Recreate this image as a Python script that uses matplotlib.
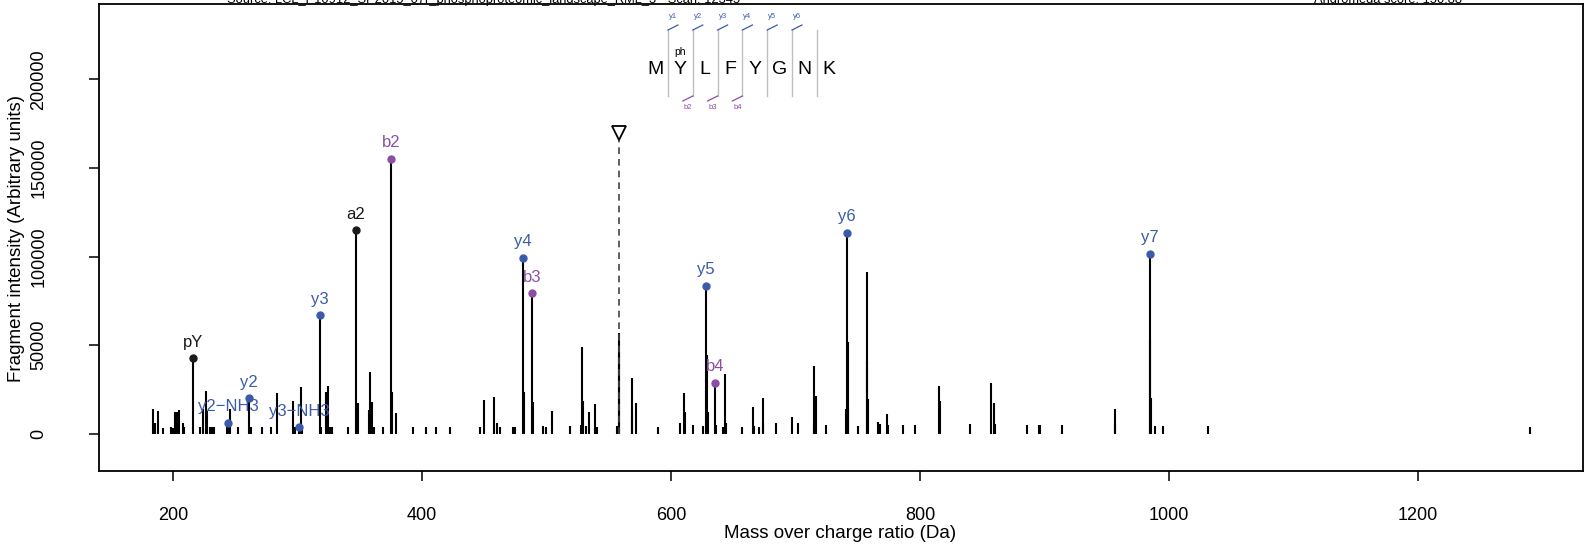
import matplotlib
matplotlib.use("Agg")
import matplotlib.pyplot as plt

plt.rcParams['font.family'] = ['Liberation Sans', 'DejaVu Sans']

# unannotated fragment peaks (m/z, intensity)
peak_mz = [183.7, 185.5, 187.6, 191.9, 198.8, 199.8, 201.6, 203.5, 205.1, 207.7,
           209.2, 221.7, 223.8, 226.5, 227.6, 229.5, 231.0, 233.0, 243.1, 245.8,
           252.0, 262.5, 271.4, 278.6, 283.6, 296.6, 297.8, 303.0, 304.0, 319.0,
           322.8, 324.8, 326.0, 328.0, 340.8, 348.3, 357.4, 358.5, 359.5, 361.3,
           368.4, 375.6, 379.2, 392.5, 403.2, 411.2, 422.5, 446.3, 449.9, 457.5,
           460.5, 463.0, 472.8, 475.0, 482.0, 488.9, 497.3, 500.0, 504.5, 518.9,
           527.7, 528.5, 529.6, 531.5, 534.4, 539.3, 540.5, 556.7, 558.2, 558.6,
           568.4, 569.0, 571.6, 589.3, 607.2, 610.4, 611.0, 617.3, 625.4, 629.0,
           629.5, 635.9, 641.5, 643.4, 644.0, 657.3, 665.8, 666.5, 671.0, 673.6,
           674.3, 684.2, 696.9, 702.3, 714.6, 715.1, 716.2, 724.2, 740.2, 741.8,
           742.3, 750.0, 757.2, 757.8, 758.4, 766.6, 767.6, 773.6, 774.3, 786.0,
           796.3, 815.2, 815.8, 840.4, 856.9, 859.1, 860.3, 886.1, 895.5, 896.5,
           914.2, 956.3, 957.0, 985.0, 985.6, 988.6, 995.2, 1031.2, 1289.7]
peak_int = [13800, 6200, 12800, 3000, 3500, 3000, 12200, 12400, 13400, 5900,
            4000, 3500, 14000, 24300, 13000, 3500, 3500, 4000, 3500, 14000,
            3500, 3500, 4000, 3500, 23100, 18600, 3500, 26200, 3500, 4000,
            23400, 27100, 3500, 3500, 3800, 17500, 13400, 34800, 18000, 3500,
            3500, 23400, 11500, 4000, 3500, 3500, 3500, 3500, 19000, 20900,
            6000, 4000, 4000, 4000, 23700, 18000, 4500, 4000, 12800, 4500,
            5000, 48800, 18600, 4500, 12200, 16600, 4000, 4500, 56700, 44400,
            31700, 12000, 17500, 4000, 6000, 22800, 12500, 5000, 4500, 44400,
            12000, 5000, 3500, 33600, 6000, 4000, 15000, 4500, 4000, 20400,
            6000, 6000, 9200, 6000, 4000, 38000, 21200, 5000, 13900, 51600,
            14500, 4500, 91000, 41200, 19400, 6800, 5500, 11000, 5000, 5000,
            5000, 26900, 18600, 5500, 28800, 17200, 5500, 5000, 5000, 5000,
            5000, 13800, 5500, 52900, 20000, 4500, 4500, 4500, 4000]

# annotated fragment ions
ion_labels = ['pY', 'y2\u2212NH3', 'y2', 'y3\u2212NH3', 'y3', 'a2', 'b2',
              'y4', 'b3', 'y5', 'b4', 'y6', 'y7']
ion_mz = [216.04, 244.13, 261.16, 301.15, 318.18, 347.09, 375.08,
          481.24, 488.16, 628.31, 635.23, 741.39, 984.42]
ion_int = [42500, 6200, 20000, 3600, 67000, 115000, 155200,
           99400, 79300, 83400, 28800, 113500, 101700]
ion_type = ['other', 'y', 'y', 'y', 'y', 'other', 'b',
            'y', 'b', 'y', 'b', 'y', 'y']

precursor_mz = 558.23
precursor_mark = 169700

sequence = ['M', 'Y', 'L', 'F', 'Y', 'G', 'N', 'K']
y_cuts = [1, 2, 3, 4, 5, 6]
b_cuts = [2, 3, 4]
mod_site = 1

colors = {'y': '#3b5ba9', 'b': '#8b4fa3', 'other': '#1a1a1a'}

fig = plt.figure(figsize=(15.96, 5.5), dpi=100)
ax = fig.add_axes([99 / 1596, 1 - 471 / 550, 1484 / 1596, 467 / 550])

ax.vlines(peak_mz, 0, peak_int, color='black', linewidth=1.5)
ax.vlines(ion_mz, 0, ion_int, color='black', linewidth=1.5)
for lab, mz, inten, t in zip(ion_labels, ion_mz, ion_int, ion_type):
    c = colors[t]
    ax.plot(mz, inten, 'o', color=c, markersize=5, zorder=3)
    ax.annotate(lab, (mz, inten), xytext=(0, 11.5), textcoords='offset points',
                ha='center', va='center', color=c, fontsize=12)

# precursor
ax.vlines(precursor_mz, 0, precursor_mark, color='#444444', linewidth=1.2,
          linestyles=(0, (4, 3)))
ax.plot(precursor_mz, precursor_mark, 'v', markersize=10, markerfacecolor='white',
        markeredgecolor='black', markeredgewidth=1.3, zorder=4)

ax.set_xlim(140.6, 1332.5)
ax.set_ylim(-21056, 242566)
ax.set_xticks([200, 400, 600, 800, 1000, 1200])
ax.set_yticks([0, 50000, 100000, 150000, 200000])
ax.set_yticklabels(['0', '50000', '100000', '150000', '200000'], rotation=90, va='center')
ax.tick_params(axis='both', direction='out', length=7, width=1.1, labelsize=13)
ax.tick_params(axis='y', pad=30)
ax.tick_params(axis='x', pad=19)
for s in ax.spines.values():
    s.set_linewidth(1.3)

fig.text(840 / 1596, 1 - 534 / 550, 'Mass over charge ratio (Da)', ha='center', va='center', fontsize=13.5)
fig.text(17 / 1596, 1 - 239 / 550, 'Fragment intensity (Arbitrary units)', ha='center', va='center',
         rotation=90, fontsize=13.5)

# header lines (cut off at top)
fig.text(484 / 1596, 1 - 3 / 550,
         'Source: LCL_P10912_SP2015_07r_phosphoproteomic_landscape_RML_3 - Scan: 12345',
         ha='center', va='baseline', fontsize=9.3)
fig.text(1388 / 1596, 1 - 3 / 550, 'Andromeda score: 150.88', ha='center', va='baseline', fontsize=9.3)


# peptide sequence diagram (figure pixel positions)
def fp(x, y):
    return x / 1596, 1 - y / 550


tr = fig.transFigure
x0, step = 668, 24.8
top, bot = 30, 96
for i, aa in enumerate(sequence):
    cx = x0 - step / 2 + i * step
    fig.text(*fp(cx, 70), aa, ha='center', va='center', fontsize=14)
    if i == mod_site:
        fig.text(*fp(cx, 52), 'ph', ha='center', va='center', fontsize=7.5)
for k in range(1, len(sequence)):
    sx = x0 + (k - 1) * step
    fig.add_artist(plt.Line2D(*zip(fp(sx, top), fp(sx, bot)), transform=tr,
                              color='#bebebe', linewidth=1.0))
    if k in y_cuts:
        fig.add_artist(plt.Line2D(*zip(fp(sx, top), fp(sx + 10, top - 5)), transform=tr,
                                  color=colors['y'], linewidth=0.9))
        fig.text(*fp(sx + 5, 16), 'y%d' % k, ha='center', va='center', fontsize=5.5, color=colors['y'])
    if k in b_cuts:
        fig.add_artist(plt.Line2D(*zip(fp(sx, bot), fp(sx - 10, bot + 5)), transform=tr,
                                  color=colors['b'], linewidth=0.9))
        fig.text(*fp(sx - 5, 108), 'b%d' % k, ha='center', va='center', fontsize=5.5, color=colors['b'])

fig.savefig('out.png', dpi=100)
